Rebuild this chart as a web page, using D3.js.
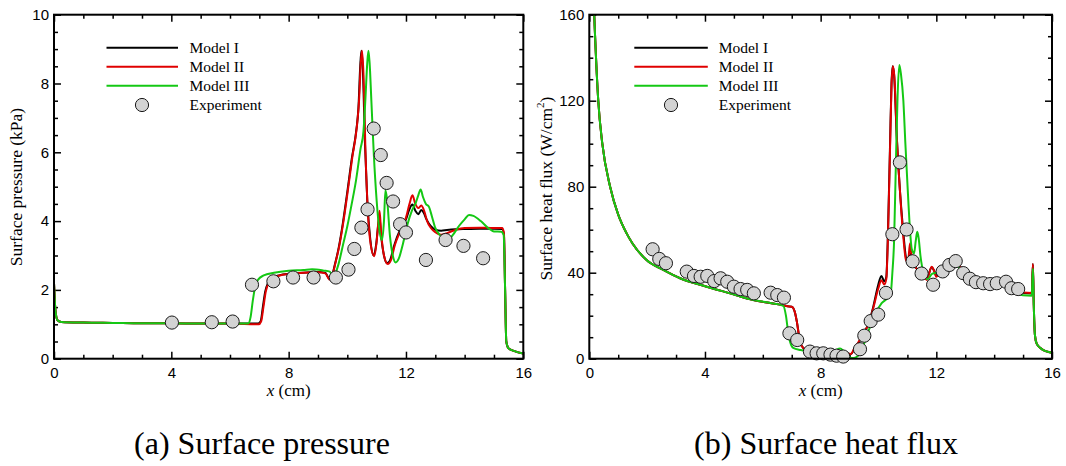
<!DOCTYPE html>
<html>
<head>
<meta charset="utf-8">
<script src="https://cdn.jsdelivr.net/npm/d3@7"></script>
<style>
  html, body { margin: 0; padding: 0; background: #fff; }
  svg { display: block; }
</style>
</head>
<body>
<svg id="fig" width="1066" height="466"></svg>
<script>
// ---- axis ticks -------------------------------------------------------
const xTicks = [0, 4, 8, 12, 16];
const pressureTicks = [0, 2, 4, 6, 8, 10];
const heatTicks = [0, 40, 80, 120, 160];
const legendLabels = ["Model I", "Model II", "Model III", "Experiment"];

// ---- (a) surface pressure, kPa vs x in cm ----------------------------
const pressureModelI = [
  [0,2.2],[0.05,1.4],[0.12,1.12],[0.25,1.07],[1,1.05],[2,1.04],[3,1.03],[4,1.03],[5,1.02],[6,1.02],
  [6.95,1.02],[7.05,1.1],[7.12,1.5],[7.2,1.95],[7.3,2.2],[7.45,2.35],[7.7,2.43],[8,2.47],[8.5,2.5],
  [9,2.52],[9.25,2.5],[9.38,2.33],[9.47,2.4],[9.58,2.75],[9.7,3.2],[9.85,3.95],[10,4.85],[10.15,5.8],
  [10.3,6.6],[10.38,7.3],[10.44,8.5],[10.48,8.95],[10.53,8.4],[10.6,6.3],[10.68,4.6],[10.78,3.5],
  [10.9,3.0],[10.98,3.3],[11.05,3.85],[11.1,4.1],[11.15,3.6],[11.25,3.0],[11.35,2.78],[11.45,2.85],
  [11.6,3.3],[11.8,3.75],[12,4.05],[12.12,4.35],[12.22,4.48],[12.32,4.3],[12.42,4.2],[12.52,4.32],
  [12.6,4.25],[12.7,4.05],[12.85,3.85],[13,3.75],[13.2,3.72],[13.4,3.74],[13.7,3.76],[14,3.77],
  [14.5,3.78],[15,3.78],[15.28,3.77],[15.34,3.6],[15.38,2.0],[15.42,0.5],[15.5,0.3],[15.7,0.22],[16,0.15]
];
const pressureModelII = [
  [0,2.2],[0.05,1.4],[0.12,1.12],[0.25,1.07],[1,1.05],[2,1.04],[3,1.03],[4,1.03],[5,1.02],[6,1.02],
  [6.98,1.0],[7.06,1.08],[7.14,1.5],[7.22,1.95],[7.32,2.2],[7.5,2.35],[7.7,2.42],[8,2.46],[8.5,2.5],
  [9,2.51],[9.25,2.48],[9.4,2.3],[9.5,2.45],[9.6,2.8],[9.72,3.25],[9.87,4.0],[10.02,4.9],[10.17,5.85],
  [10.32,6.7],[10.4,7.5],[10.46,8.6],[10.5,8.95],[10.55,8.3],[10.62,6.0],[10.7,4.3],[10.8,3.3],
  [10.92,2.98],[11,3.4],[11.06,4.0],[11.1,4.3],[11.15,3.7],[11.25,3.0],[11.38,2.75],[11.48,2.85],
  [11.62,3.3],[11.8,3.7],[12,4.1],[12.12,4.5],[12.22,4.75],[12.32,4.5],[12.42,4.38],[12.52,4.45],
  [12.62,4.3],[12.72,4.0],[12.85,3.8],[13,3.68],[13.2,3.6],[13.4,3.65],[13.7,3.75],[14,3.8],
  [14.5,3.81],[15,3.8],[15.28,3.8],[15.34,3.65],[15.38,2.0],[15.42,0.5],[15.5,0.3],[15.7,0.22],[16,0.15]
];
const pressureModelIII = [
  [0,2.2],[0.05,1.4],[0.12,1.12],[0.25,1.07],[1,1.05],[2,1.04],[3,1.03],[4,1.03],[5,1.02],[6,1.02],
  [6.62,1.02],[6.7,1.2],[6.78,1.7],[6.86,2.1],[6.96,2.3],[7.15,2.42],[7.5,2.5],[8,2.56],[8.5,2.58],
  [8.8,2.6],[9.2,2.56],[9.4,2.53],[9.5,2.42],[9.6,2.5],[9.7,2.75],[9.85,3.3],[10,3.85],[10.15,4.5],
  [10.3,5.2],[10.45,6.1],[10.55,6.6],[10.62,7.6],[10.68,8.6],[10.72,8.95],[10.76,8.6],[10.82,7.5],
  [10.9,6.0],[11,4.6],[11.1,3.7],[11.18,3.45],[11.25,4.0],[11.3,4.9],[11.36,4.6],[11.45,3.6],
  [11.55,3.0],[11.65,2.8],[11.75,2.9],[11.9,3.35],[12.05,3.9],[12.2,4.3],[12.32,4.5],[12.42,4.75],
  [12.5,4.92],[12.58,4.7],[12.68,4.5],[12.78,4.42],[12.88,4.15],[13,3.8],[13.15,3.6],[13.3,3.5],
  [13.45,3.48],[13.6,3.6],[13.8,3.85],[14,4.05],[14.15,4.18],[14.3,4.15],[14.55,4.0],[14.8,3.8],
  [15,3.7],[15.25,3.69],[15.33,3.6],[15.38,2.0],[15.42,0.5],[15.5,0.3],[15.7,0.22],[16,0.15]
];
const pressureExperiment = [
  [4.02,1.05],[5.38,1.06],[6.09,1.08],[6.75,2.15],[7.48,2.25],[8.15,2.36],[8.85,2.36],[9.61,2.36],
  [10.04,2.59],[10.24,3.19],[10.48,3.81],[10.69,4.34],[10.9,6.69],[11.14,5.92],[11.34,5.11],
  [11.56,4.57],[11.8,3.91],[12.0,3.67],[12.68,2.87],[13.35,3.45],[13.96,3.28],[14.63,2.92]
];

// ---- (b) surface heat flux, W/cm^2 vs x in cm -------------------------
const heatModelI = [
  [0.12,180],[0.17,160],[0.2,150],[0.31,120],[0.45,100],[0.72,80],[1,67],[1.29,58.3],[1.5,53.5],
  [1.98,45.9],[2.56,41.3],[3.14,37.4],[4.06,33.5],[4.87,30.4],[5.67,27.3],[6.3,25.8],[6.71,24.8],
  [6.85,24.4],[7.0,24.2],[7.1,22],[7.18,17],[7.26,10],[7.34,6],[7.5,4.0],[7.8,3.2],[8.2,2.8],
  [8.6,2.5],[8.9,2.3],[9.05,2.2],[9.15,4.0],[9.3,7],[9.47,11.8],[9.65,16],[9.82,24.2],[9.99,34.3],
  [10.1,38.5],[10.2,36],[10.27,38],[10.33,60],[10.4,100],[10.45,128],[10.49,136],[10.54,132],
  [10.63,104],[10.74,78.5],[10.85,60],[10.95,47],[11.02,44],[11.08,47],[11.13,49],[11.2,44],
  [11.35,41.5],[11.55,39],[11.67,37.5],[11.84,42.5],[11.92,41],[12.0,38.5],[12.15,41.5],[12.36,44.4],
  [12.55,46.2],[12.65,45.5],[12.82,42.8],[13,40.5],[13.16,39],[13.51,36.5],[13.97,35.5],[14.43,34.5],
  [14.7,32],[14.89,30.8],[15,30.5],[15.3,30.3],[15.34,44],[15.37,25],[15.41,11],[15.47,7],
  [15.6,5],[15.7,4],[15.93,3],[16,2.8]
];
const heatModelII = [
  [0.12,180],[0.17,160],[0.2,150],[0.31,120],[0.45,100],[0.72,80],[1,67],[1.29,58.3],[1.5,53.5],
  [1.98,45.9],[2.56,41.3],[3.14,37.4],[4.06,33.5],[4.87,30.4],[5.67,27.3],[6.3,25.8],[6.71,24.8],
  [6.85,24.4],[7.0,24.2],[7.1,22],[7.18,17],[7.26,10],[7.34,6],[7.5,4.0],[7.8,3.2],[8.2,2.8],
  [8.6,2.5],[8.9,2.3],[9.05,2.2],[9.15,4.5],[9.3,7.5],[9.47,11.8],[9.65,16],[9.82,23.5],[9.99,32.5],
  [10.1,36.5],[10.2,34.5],[10.27,37],[10.33,58],[10.4,98],[10.45,127],[10.5,136],[10.55,131],
  [10.63,104],[10.74,78.5],[10.85,58],[10.95,46],[11.02,45],[11.09,53.7],[11.14,48],[11.2,44],
  [11.35,41.5],[11.55,39],[11.67,36.6],[11.84,42.8],[11.92,41],[12.0,38.1],[12.15,41.5],[12.36,44.8],
  [12.55,46.5],[12.65,45.5],[12.82,42.8],[13,40.5],[13.16,39],[13.51,36.5],[13.97,35.5],[14.43,34.8],
  [14.7,32.5],[14.89,31.2],[15,30.8],[15.3,30.6],[15.34,44],[15.37,25],[15.41,11],[15.47,7],
  [15.6,5],[15.7,4],[15.93,3],[16,2.8]
];
const heatModelIII = [
  [0.12,180],[0.17,160],[0.2,150],[0.31,120],[0.45,100],[0.72,80],[1,67],[1.29,58.3],[1.5,53.5],
  [1.98,45.9],[2.56,41.3],[3.14,37.4],[4.06,33.5],[4.87,30.4],[5.67,27.3],[6.3,25.8],[6.71,24.6],
  [6.8,20],[6.87,13],[6.95,7.5],[7.05,5],[7.3,4],[7.6,3.5],[8,3.2],[8.3,3.0],[8.5,3.8],[8.67,4.8],
  [8.8,3.5],[8.95,1.2],[9.07,0.3],[9.2,0.5],[9.36,2.5],[9.5,7],[9.71,14.9],[9.9,21],[10.11,25.8],
  [10.3,28],[10.42,30],[10.48,40],[10.54,55],[10.6,90],[10.66,122],[10.72,136.6],[10.78,132],
  [10.86,120],[10.93,100],[11,81.6],[11.08,62],[11.15,51],[11.23,49],[11.29,55],[11.34,59],
  [11.39,56],[11.45,48],[11.57,39.5],[11.7,37],[11.85,39.5],[12,40],[12.2,42],[12.4,44],[12.6,45.5],
  [12.8,42],[13,39.5],[13.2,37.5],[13.5,35.5],[14,34.5],[14.4,33.5],[14.7,31],[15,29.5],[15.3,29.3],
  [15.34,42],[15.37,25],[15.41,11],[15.47,7],[15.6,5],[15.7,4],[15.93,3],[16,2.8]
];
const heatExperiment = [
  [2.19,50.9],[2.42,46.4],[2.65,44.4],[3.37,40.5],[3.62,38.5],[3.85,38.1],[4.08,38.5],[4.32,36.1],
  [4.54,37.4],[4.77,35.8],[5.0,33.5],[5.23,32.4],[5.46,32.0],[5.69,30.4],[6.27,30.7],[6.5,29.6],
  [6.73,28.4],[6.92,11.8],[7.19,8.7],[7.63,3.3],[7.86,2.5],[8.09,2.5],[8.34,1.9],[8.55,1.4],
  [8.78,1.0],[9.36,4.4],[9.51,10.7],[9.73,17.5],[9.99,20.5],[10.26,30.6],[10.48,57.9],[10.74,91.3],
  [10.97,60.1],[11.18,45.3],[11.49,39.6],[11.89,34.4],[12.22,40.6],[12.45,43.6],[12.67,45.4],
  [12.93,39.8],[13.16,37.2],[13.37,35.6],[13.62,35.1],[13.86,34.7],[14.09,35.1],[14.41,35.8],
  [14.6,32.8],[14.83,32.4]
];

// ---- drawing ----------------------------------------------------------
const svg = d3.select("#fig");
const serif = "'Liberation Serif','Times New Roman',serif";
const sans = "'Liberation Sans',Arial,sans-serif";
const lineColors = ["#000000", "#e00000", "#14c814"];

const panels = [
  {
    key: "a", left: 54, right: 523.3, top: 14.7, bottom: 358.7,
    yMax: 10, yTicks: pressureTicks, yMinor: 0.5,
    models: [pressureModelI, pressureModelII, pressureModelIII], exp: pressureExperiment,
    yTitleX: 22, yTitleY: 187, caption: "(a) Surface pressure", captionX: 262,
    legend: { lineX0: 106.5, lineX1: 178, markX: 142, textX: 189.5 },
    yTitle: (t) => t.text("Surface pressure (kPa)")
  },
  {
    key: "b", left: 589.3, right: 1052, top: 14.7, bottom: 358.7,
    yMax: 160, yTicks: heatTicks, yMinor: 10,
    models: [heatModelI, heatModelII, heatModelIII], exp: heatExperiment,
    yTitleX: 552, yTitleY: 188.5, caption: "(b) Surface heat flux", captionX: 826,
    legend: { lineX0: 634.3, lineX1: 707.8, markX: 671, textX: 718.7 },
    yTitle: (t) => {
      t.append("tspan").text("Surface heat flux (W/cm");
      t.append("tspan").attr("font-size", 11).attr("dy", "-0.75em").text("2");
      t.append("tspan").attr("dy", "0.45em").text(")");
    }
  }
];

const legendRows = [47.7, 66.7, 85.7, 105];

panels.forEach(p => {
  const x = d3.scaleLinear().domain([0, 16]).range([p.left, p.right]);
  const y = d3.scaleLinear().domain([0, p.yMax]).range([p.bottom, p.top]);
  const g = svg.append("g").attr("class", "panel-" + p.key);

  const clipId = "clip-" + p.key;
  svg.append("clipPath").attr("id", clipId)
    .append("rect")
    .attr("x", p.left).attr("y", p.top)
    .attr("width", p.right - p.left).attr("height", p.bottom - p.top);

  // minor and major ticks on all four sides, pointing inward
  const xMinor = d3.range(0, 16.001, 1).filter(v => !xTicks.includes(v));
  const yMinor = d3.range(0, p.yMax + 1e-6, p.yMinor).filter(v => !p.yTicks.includes(v));

  const styleAxis = sel => {
    sel.select(".domain").remove();
    sel.selectAll(".tick line").attr("stroke", "#000").attr("stroke-width", 1.5);
    sel.selectAll("text").attr("font-family", sans).attr("font-size", 15).attr("fill", "#000");
  };

  g.append("g").attr("transform", `translate(0,${p.bottom})`)
    .call(d3.axisBottom(x).tickValues(xTicks).tickSize(-7).tickPadding(9).tickFormat(d3.format("d")))
    .call(styleAxis);
  g.append("g").attr("transform", `translate(0,${p.bottom})`)
    .call(d3.axisBottom(x).tickValues(xMinor).tickSize(-4).tickFormat(""))
    .call(styleAxis);
  g.append("g").attr("transform", `translate(0,${p.top})`)
    .call(d3.axisTop(x).tickValues(xTicks).tickSize(-7).tickFormat(""))
    .call(styleAxis);
  g.append("g").attr("transform", `translate(0,${p.top})`)
    .call(d3.axisTop(x).tickValues(xMinor).tickSize(-4).tickFormat(""))
    .call(styleAxis);

  g.append("g").attr("transform", `translate(${p.left},0)`)
    .call(d3.axisLeft(y).tickValues(p.yTicks).tickSize(-7).tickPadding(5).tickFormat(d3.format("d")))
    .call(styleAxis);
  g.append("g").attr("transform", `translate(${p.left},0)`)
    .call(d3.axisLeft(y).tickValues(yMinor).tickSize(-4).tickFormat(""))
    .call(styleAxis);
  g.append("g").attr("transform", `translate(${p.right},0)`)
    .call(d3.axisRight(y).tickValues(p.yTicks).tickSize(-7).tickFormat(""))
    .call(styleAxis);
  g.append("g").attr("transform", `translate(${p.right},0)`)
    .call(d3.axisRight(y).tickValues(yMinor).tickSize(-4).tickFormat(""))
    .call(styleAxis);

  // model curves
  const line = d3.line().x(d => x(d[0])).y(d => y(d[1])).curve(d3.curveMonotoneX);
  const curves = g.append("g").attr("clip-path", `url(#${clipId})`);
  p.models.forEach((m, i) => {
    curves.append("path").datum(m)
      .attr("d", line)
      .attr("fill", "none")
      .attr("stroke", lineColors[i])
      .attr("stroke-width", 2)
      .attr("stroke-linejoin", "round");
  });

  // experiment markers
  g.append("g").selectAll("circle").data(p.exp).join("circle")
    .attr("cx", d => x(d[0])).attr("cy", d => y(d[1])).attr("r", 6.6)
    .attr("fill", "#d3d3d3").attr("stroke", "#1a1a1a").attr("stroke-width", 1);

  // frame
  g.append("rect")
    .attr("x", p.left).attr("y", p.top)
    .attr("width", p.right - p.left).attr("height", p.bottom - p.top)
    .attr("fill", "none").attr("stroke", "#000").attr("stroke-width", 2);

  // legend
  const lg = g.append("g");
  legendLabels.forEach((lab, i) => {
    const ly = legendRows[i];
    if (i < 3) {
      lg.append("line")
        .attr("x1", p.legend.lineX0).attr("x2", p.legend.lineX1)
        .attr("y1", ly).attr("y2", ly)
        .attr("stroke", lineColors[i]).attr("stroke-width", 2);
    } else {
      lg.append("circle")
        .attr("cx", p.legend.markX).attr("cy", ly).attr("r", 6.6)
        .attr("fill", "#d3d3d3").attr("stroke", "#1a1a1a").attr("stroke-width", 1);
    }
    lg.append("text")
      .attr("x", p.legend.textX).attr("y", ly).attr("dy", "0.33em")
      .attr("font-family", serif).attr("font-size", 15.5).attr("fill", "#000")
      .text(lab);
  });

  // axis titles
  const xt = g.append("text")
    .attr("x", x(8)).attr("y", 395.5)
    .attr("text-anchor", "middle")
    .attr("font-family", serif).attr("font-size", 17).attr("fill", "#000");
  xt.append("tspan").attr("font-style", "italic").text("x");
  xt.append("tspan").text(" (cm)");

  const yt = g.append("text")
    .attr("transform", `translate(${p.yTitleX},${p.yTitleY}) rotate(-90)`)
    .attr("text-anchor", "middle")
    .attr("font-family", serif).attr("font-size", 17.5).attr("fill", "#000");
  p.yTitle(yt);

  // panel caption
  g.append("text")
    .attr("x", p.captionX).attr("y", 454)
    .attr("text-anchor", "middle")
    .attr("font-family", serif).attr("font-size", 32).attr("fill", "#000")
    .text(p.caption);
});
</script>
</body>
</html>
